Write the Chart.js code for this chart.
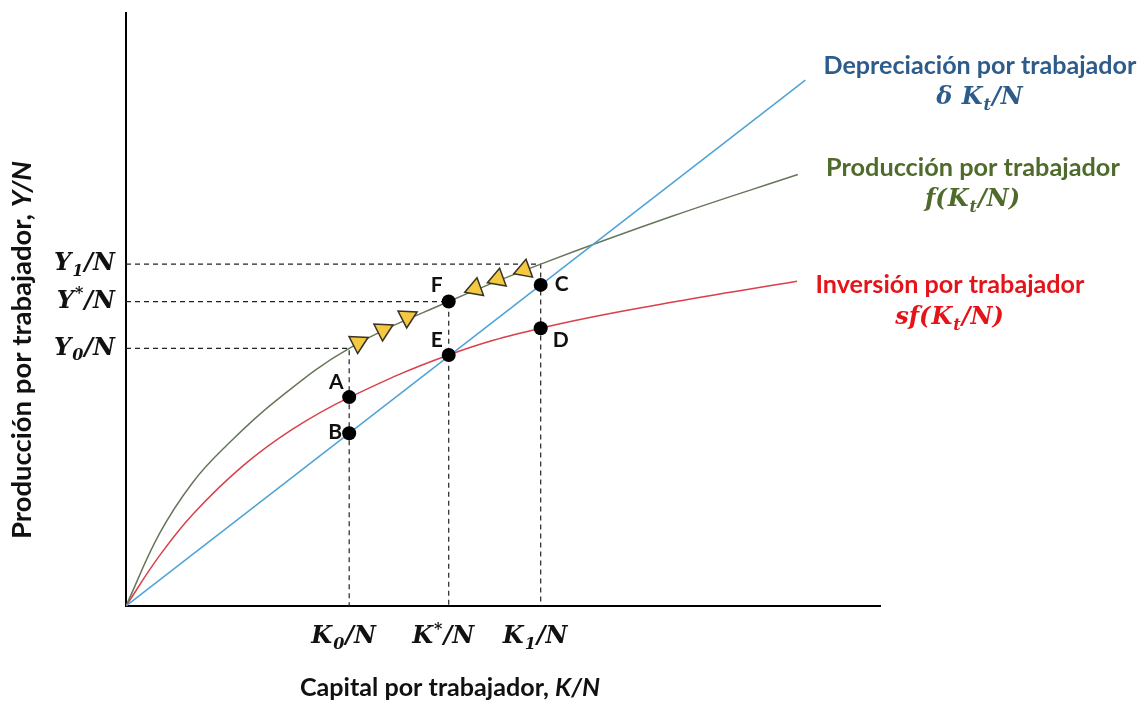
<!DOCTYPE html>
<html>
<head>
<meta charset="utf-8">
<script src="https://cdn.jsdelivr.net/npm/chart.js@4.4.1/dist/chart.umd.min.js"></script>
<style>
  body { margin: 0; background: #fff; }
  canvas { display: block; }
</style>
</head>
<body>
<canvas id="myChart" width="1146" height="702"></canvas>
<script>
// Curvas del modelo de Solow (escala 0-100 en ambos ejes)
const depK = [0, 90.1];
const depY = [0, 88.6];

const prodK = [0, 4.4, 8.9, 13.3, 19.9, 29.6, 42.8, 55.0, 72.5, 89.1];
const prodY = [0, 12.1, 20.9, 27.0, 34.6, 43.4, 51.3, 57.6, 65.7, 72.7];

const invK = [0, 4.4, 8.9, 15.5, 22.1, 29.7, 42.8, 55.0, 71.6, 89.0];
const invY = [0, 8.4, 15.5, 23.6, 29.8, 35.2, 42.3, 46.8, 51.0, 54.7];

// K0, K*, K1 y los niveles de producción Y0, Y*, Y1
const keyK = [29.6, 42.8, 55.0];
const keyY = [43.4, 51.3, 57.6];
const keyKLabels = [[["K", "n"], ["0", "sub"], ["/N", "n"]], [["K", "n"], ["*", "sup"], ["/N", "n"]], [["K", "n"], ["1", "sub"], ["/N", "n"]]];
const keyYLabels = [[["Y", "n"], ["0", "sub"], ["/N", "n"]], [["Y", "n"], ["*", "sup"], ["/N", "n"]], [["Y", "n"], ["1", "sub"], ["/N", "n"]]];

// Puntos A..F
const dotNames = ["A", "B", "C", "D", "E", "F"];
const dotK = [29.6, 29.6, 55.0, 55.0, 42.8, 42.8];
const dotY = [35.2, 29.1, 54.1, 46.8, 42.3, 51.3];

// Flechas (triángulos) sobre la curva de producción
const arrowK = [30.8, 34.1, 37.3, 46.3, 49.3, 52.8];
const arrowY = [44.4, 46.5, 48.7, 53.5, 55.1, 56.6];
const arrowRot = [63, 63, 63, 250, 250, 250];

// Textos
const curveTitles = ["Depreciación por trabajador", "Producción por trabajador", "Inversión por trabajador"];
const curveFormulas = [
  [["δ ", "n"], ["K", "n"], ["t", "sub"], ["/N", "n"]],
  [["f(", "n"], ["K", "n"], ["t", "sub"], ["/N)", "n"]],
  [["sf(", "n"], ["K", "n"], ["t", "sub"], ["/N)", "n"]]
];
const xTitle = ["Capital por trabajador, ", "K/N"];
const yTitle = ["Producción por trabajador, ", "Y/N"];

const toXY = (xs, ys) => xs.map((v, i) => ({ x: v, y: ys[i] }));

// líneas punteadas guía
const guideSets = keyK.map((k, i) => ({
  data: [{ x: 0, y: keyY[i] }, { x: k, y: keyY[i] }, { x: k, y: 0 }],
  showLine: true,
  borderColor: '#222',
  borderWidth: 1.2,
  borderDash: [5, 4],
  pointRadius: 0,
  order: 10
}));

const SERIF = "'DejaVu Serif'";
const SANS = "Lato";

function drawRich(ctx, segs, x, y, align, size, color) {
  const fontFor = (s) => `italic bold ${s[1] === 'n' ? size : Math.round(size * 0.68)}px ${SERIF}`;
  let w = 0;
  segs.forEach(s => { ctx.font = fontFor(s); w += ctx.measureText(s[0]).width + 1; });
  let cx = align === 'center' ? x - w / 2 : align === 'right' ? x - w : x;
  ctx.fillStyle = color;
  ctx.textBaseline = 'middle';
  ctx.textAlign = 'left';
  segs.forEach(s => {
    ctx.font = fontFor(s);
    const dy = s[1] === 'sub' ? size * 0.32 : s[1] === 'sup' ? -size * 0.3 : 0;
    ctx.fillText(s[0], cx, y + dy);
    cx += ctx.measureText(s[0]).width + 1;
  });
}

// texto sans con parte final en cursiva, ajustado a un ancho
function drawTitle(ctx, parts, cx, cy, width, color) {
  ctx.font = `bold 20px ${SANS}`;
  let a = ctx.measureText(parts[0]).width;
  ctx.font = `italic bold 20px ${SANS}`;
  let b = parts[1] ? ctx.measureText(parts[1]).width : 0;
  const size = 20 * width / (a + b);
  a *= size / 20;
  ctx.fillStyle = color;
  ctx.textBaseline = 'middle';
  ctx.textAlign = 'left';
  ctx.font = `bold ${size}px ${SANS}`;
  ctx.fillText(parts[0], cx - width / 2, cy);
  if (parts[1]) {
    ctx.font = `italic bold ${size}px ${SANS}`;
    ctx.fillText(parts[1], cx - width / 2 + a, cy);
  }
}

const labelPlugin = {
  id: 'labels',
  afterDatasetsDraw(chart) {
    const ctx = chart.ctx;
    const xs = chart.scales.x, ys = chart.scales.y;
    ctx.save();

    // letras de los puntos
    const offs = [[-13, -15], [-14, -1], [21, -1], [20, 12], [-12, -15], [-12, -16]];
    ctx.font = `bold 21px ${SANS}`;
    ctx.fillStyle = '#111';
    ctx.textAlign = 'center';
    ctx.textBaseline = 'middle';
    dotNames.forEach((n, i) => {
      ctx.fillText(n, xs.getPixelForValue(dotK[i]) + offs[i][0], ys.getPixelForValue(dotY[i]) + offs[i][1]);
    });

    // etiquetas de los ejes (K y Y)
    keyK.forEach((k, i) => drawRich(ctx, keyKLabels[i], xs.getPixelForValue(k) - 5, 637, 'center', 24, '#111'));
    keyY.forEach((v, i) => drawRich(ctx, keyYLabels[i], 116, ys.getPixelForValue(v), 'right', 24, '#111'));

    // títulos de las curvas
    const colors = ['#2E5C8A', '#4F6B2C', '#E3151B'];
    const pos = [[980, 66, 98, 313], [973, 168, 200, 294], [950, 285, 318, 269]];
    curveTitles.forEach((t, i) => {
      drawTitle(ctx, [t], pos[i][0], pos[i][1], pos[i][3], colors[i]);
      drawRich(ctx, curveFormulas[i], pos[i][0], pos[i][2], 'center', 24, colors[i]);
    });

    // título eje x
    drawTitle(ctx, xTitle, 450, 688, 300, '#111');

    // título eje y
    ctx.translate(22, 350);
    ctx.rotate(-Math.PI / 2);
    drawTitle(ctx, yTitle, 0, 0, 378, '#111');

    ctx.restore();
  }
};

const ctx = document.getElementById('myChart');
new Chart(ctx, {
  type: 'scatter',
  data: {
    datasets: [
      {
        label: 'Flechas',
        data: toXY(arrowK, arrowY),
        pointStyle: 'triangle',
        pointRadius: 11,
        pointRotation: arrowRot,
        pointBackgroundColor: '#F5C842',
        pointBorderColor: '#3A3424',
        pointBorderWidth: 1.5,
        order: 0
      },
      {
        label: 'Puntos',
        data: toXY(dotK, dotY),
        pointRadius: 7,
        pointBackgroundColor: '#000',
        pointBorderColor: '#000',
        pointBorderWidth: 0,
        order: 1
      },
      {
        label: 'Depreciación por trabajador',
        data: toXY(depK, depY),
        showLine: true,
        borderColor: '#4DA3D6',
        borderWidth: 1.5,
        pointRadius: 0,
        order: 3
      },
      {
        label: 'Producción por trabajador',
        data: toXY(prodK, prodY),
        showLine: true,
        tension: 0.4,
        borderColor: '#66765A',
        borderWidth: 1.5,
        pointRadius: 0,
        order: 4
      },
      {
        label: 'Inversión por trabajador',
        data: toXY(invK, invY),
        showLine: true,
        tension: 0.4,
        borderColor: '#D8404A',
        borderWidth: 1.5,
        pointRadius: 0,
        order: 5
      },
      ...guideSets
    ]
  },
  options: {
    responsive: false,
    animation: false,
    layout: { padding: { left: 126, right: 266, top: 12, bottom: 96 } },
    plugins: { legend: { display: false }, tooltip: { enabled: false } },
    scales: {
      x: {
        type: 'linear', min: 0, max: 100,
        ticks: { display: false },
        grid: { display: false, drawTicks: false },
        border: { display: true, color: '#000', width: 2 }
      },
      y: {
        type: 'linear', min: 0, max: 100,
        ticks: { display: false },
        grid: { display: false, drawTicks: false },
        border: { display: true, color: '#000', width: 2 }
      }
    }
  },
  plugins: [labelPlugin]
});
</script>
</body>
</html>
